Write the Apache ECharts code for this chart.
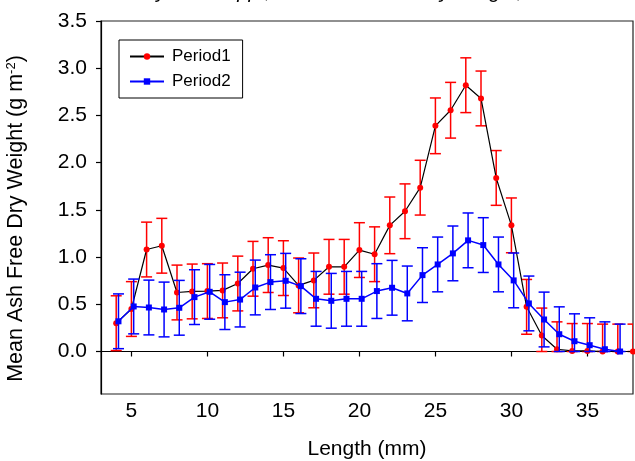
<!DOCTYPE html>
<html><head><meta charset="utf-8">
<script src="https://cdn.jsdelivr.net/npm/echarts@6/dist/echarts.min.js"></script>
<style>html,body{margin:0;padding:0;background:#fff}#c{width:635px;height:461px}</style>
</head><body><div id="c"></div>
<script>
// ---- data ----
const lengths = [4,5,6,7,8,9,10,11,12,13,14,15,16,17,18,19,20,21,22,23,24,25,26,27,28,29,30,31,32,33,34,35,36,37,38];
const period1 = [0.30,0.45,1.08,1.12,0.625,0.636,0.64,0.647,0.72,0.876,0.915,0.883,0.70,0.753,0.897,0.897,1.074,1.03,1.336,1.485,1.735,2.39,2.555,2.82,2.68,1.838,1.336,0.473,0.17,0.024,0.006,0.006,0,0,0];
const period1Err = [0.29,0.29,0.29,0.29,0.29,0.29,0.29,0.29,0.29,0.29,0.29,0.29,0.29,0.29,0.29,0.29,0.29,0.29,0.30,0.29,0.29,0.295,0.295,0.29,0.29,0.29,0.29,0.29,0.29,0.29,0.29,0.29,0.29,0.29,0.29];
const period2 = [0.32,0.477,0.466,0.445,0.463,0.576,0.632,0.523,0.55,0.678,0.735,0.749,0.692,0.558,0.537,0.558,0.558,0.64,0.675,0.615,0.809,0.922,1.039,1.177,1.127,0.922,0.753,0.509,0.339,0.183,0.109,0.067,0.024,0.0,null];
const period2Err = [0.29,0.29,0.29,0.29,0.29,0.29,0.29,0.29,0.29,0.29,0.29,0.29,0.29,0.29,0.29,0.29,0.29,0.29,0.29,0.29,0.29,0.29,0.29,0.29,0.29,0.29,0.29,0.29,0.29,0.29,0.29,0.29,0.29,0.29,null];
const xTicks = [5,10,15,20,25,30,35];
const yTicks = [0,0.5,1,1.5,2,2.5,3,3.5];
const seriesNames = ['Period1','Period2'];
const titleText = 'Hydrobia spp., Mean Ash Free Dry Weight, All Stations';
const xTitle = 'Length (mm)';

// ---- styling ----
const FONT = '"Liberation Sans", Arial, Helvetica, sans-serif';
const BLUE_SHIFT = 0.15;

function pts(vals, shift){ return lengths.map((x,i)=> vals[i]==null ? [x+shift, null] : [x+shift, vals[i]]); }
function errs(vals, e, shift){
  const out=[];
  lengths.forEach((x,i)=>{ if(vals[i]!=null) out.push([x+shift, Math.max(0, vals[i]-e[i]), vals[i]+e[i]]); });
  return out;
}
function errRenderer(color){
  return function(params, api){
    const x = api.value(0), lo = api.value(1), hi = api.value(2);
    const a = api.coord([x, lo]), b = api.coord([x, hi]);
    const hw = 5.5;
    const style = {stroke: color, lineWidth: 1.5};
    return {type:'group', children:[
      {type:'line', shape:{x1:a[0],y1:a[1],x2:b[0],y2:b[1]}, style},
      {type:'line', shape:{x1:a[0]-hw,y1:a[1],x2:a[0]+hw,y2:a[1]}, style},
      {type:'line', shape:{x1:b[0]-hw,y1:b[1],x2:b[0]+hw,y2:b[1]}, style}
    ]};
  };
}

const chart = echarts.init(document.getElementById('c'), null, {renderer:'canvas'});
chart.setOption({
  animation:false,
  backgroundColor:'#fff',
  textStyle:{fontFamily:FONT},
  title:{text:titleText, left:380, top:-23, textAlign:'center',
    textStyle:{fontFamily:FONT, fontSize:20, fontWeight:'normal', fontStyle:'italic', color:'#000'}},
  grid:{left:101, right:2, top:21, bottom:67, show:true, borderColor:'#222', borderWidth:1.2,
    outerBoundsMode:'none', containLabel:false},
  legend:{
    data:seriesNames, orient:'vertical', left:119, top:40,
    backgroundColor:'#fff', borderColor:'#000', borderWidth:1,
    padding:[8,12,8,10], itemGap:8, itemWidth:34, itemHeight:8,
    textStyle:{fontFamily:FONT, fontSize:17, color:'#000', padding:[0,0,0,3]}
  },
  xAxis:{
    type:'value', min:3, max:38,
    name:xTitle, nameLocation:'middle', nameGap:45,
    nameTextStyle:{fontFamily:FONT, fontSize:21, color:'#000'},
    axisLine:{lineStyle:{color:'#000', width:1.2}},
    axisTick:{show:true, inside:false, length:5, lineStyle:{color:'#000', width:1.2}, customValues:xTicks},
    axisLabel:{fontFamily:FONT, fontSize:21, color:'#000', margin:7, customValues:xTicks},
    splitLine:{show:false}
  },
  yAxis:{
    type:'value', min:-0.45, max:3.5,
    name:'Mean Ash Free Dry Weight (g m{sup|-2})', nameLocation:'middle', nameGap:74,
    nameTextStyle:{fontFamily:FONT, fontSize:21.5, color:'#000', padding:[0,22,0,0],
      rich:{sup:{fontFamily:FONT, fontSize:13, color:'#000', verticalAlign:'top', padding:[0,0,8,0]}}},
    axisLine:{lineStyle:{color:'#000', width:1.2}},
    axisTick:{show:true, inside:false, length:5, lineStyle:{color:'#000', width:1.2}, customValues:yTicks},
    axisLabel:{fontFamily:FONT, fontSize:21, color:'#000', margin:14, customValues:yTicks,
      formatter:v=>v.toFixed(1)},
    splitLine:{show:false}
  },
  series:[
    {type:'custom', name:'p1err', renderItem:errRenderer('#ff0000'), data:errs(period1, period1Err, 0),
      encode:{x:0, y:[1,2]}, clip:true, z:2, silent:true},
    {type:'line', name:seriesNames[0], data:pts(period1,0), symbol:'circle', symbolSize:6,
      lineStyle:{color:'#000', width:1.2}, itemStyle:{color:'#ff0000'}, z:3, clip:true},
    {type:'custom', name:'p2err', renderItem:errRenderer('#0000ff'), data:errs(period2, period2Err, BLUE_SHIFT),
      encode:{x:0, y:[1,2]}, clip:true, z:4, silent:true},
    {type:'line', name:seriesNames[1], data:pts(period2,BLUE_SHIFT), symbol:'rect', symbolSize:6,
      lineStyle:{color:'#0000ff', width:1.5}, itemStyle:{color:'#0000ff'}, z:5, clip:true}
  ]
});
</script></body></html>
